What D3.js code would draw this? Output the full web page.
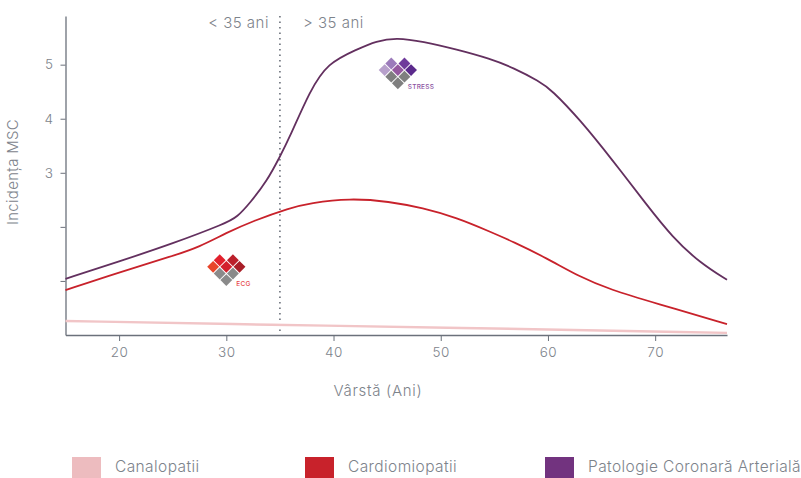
<!DOCTYPE html>
<html>
<head>
<meta charset="utf-8">
<script src="https://cdn.jsdelivr.net/npm/d3@7"></script>
<style>
  html, body { margin: 0; padding: 0; background: #fff; overflow: hidden; }
  svg { display: block; }
  text { font-family: Inter, "Open Sans", sans-serif; font-weight: 300; fill: #7d838b; }
</style>
</head>
<body>
<div id="chart"></div>
<script>
const canalAges = [15, 35, 50, 76.7];
const canalValues = [0.26, 0.185, 0.14, 0.04];

const cardioAges = [15, 20, 25, 27.5, 30, 32.5, 35.9, 37.8, 41.5, 45.2, 48.3, 51.5, 54.6, 56.7, 59.9, 63, 65.8, 70, 76.7];
const cardioValues = [0.83, 1.16, 1.46, 1.63, 1.89, 2.11, 2.35, 2.44, 2.53, 2.47, 2.35, 2.17, 1.91, 1.73, 1.42, 1.07, 0.84, 0.59, 0.20];

const coronaryAges = [15, 20, 25, 30, 31, 32.2, 33.8, 35, 35.9, 37.8, 39.45, 42.15, 44, 45.9, 48.3, 51.5, 54.6, 56.8, 59.2, 60.3, 63, 66, 69.2, 71.6, 74.2, 76.7];
const coronaryValues = [1.04, 1.36, 1.69, 2.07, 2.18, 2.44, 2.85, 3.30, 3.65, 4.52, 5.03, 5.28, 5.44, 5.50, 5.43, 5.28, 5.11, 4.94, 4.69, 4.54, 3.98, 3.24, 2.41, 1.81, 1.33, 1.02];

const xTicks = [20, 30, 40, 50, 60, 70];
const yTicks = [1, 2, 3, 4, 5];
const yLabelled = [3, 4, 5];
const cutoffAge = 35;

const legendLabels = ['Canalopatii', 'Cardiomiopatii', 'Patologie Coronară Arterială'];
const legendColors = ['#edbcbf', '#c8222b', '#72337f'];

// diamond logos, cells in grid steps around the logo centre
const logoCells = [[-2, 0], [-1, -1], [0, 0], [1, -1], [2, 0], [-1, 1], [1, 1], [0, 2]];
const ecgColors = ['#e8452a', '#e2212d', '#d3202c', '#bb202b', '#a91f28', '#8a8a8a', '#8a8a8a', '#8a8a8a'];
const stressColors = ['#b7a0cb', '#9c7bbb', '#94589f', '#6f3a9b', '#5b2a8c', '#7f7f7f', '#7f7f7f', '#7f7f7f'];

const width = 801;
const height = 478;
const margin = {
  top: 16, bottom: 143, right: 74, left: 65.5,
};

const svg = d3.select('#chart')
  .append('svg')
  .attr('width', width)
  .attr('height', height);

const x = d3.scaleLinear()
  .domain([15, 76.7])
  .range([margin.left, width - margin.right]);

const y = d3.scaleLinear()
  .domain([0, 5.9])
  .range([height - margin.bottom, margin.top]);

const xAxis = svg.append('g')
  .attr('transform', `translate(0, ${height - margin.bottom})`)
  .call(d3.axisBottom(x).tickValues(xTicks).tickSizeInner(6).tickSizeOuter(0).tickPadding(6));

const yAxis = svg.append('g')
  .attr('transform', `translate(${margin.left}, 0)`)
  .call(d3.axisLeft(y)
    .tickValues(yTicks)
    .tickSizeInner(5)
    .tickSizeOuter(0)
    .tickPadding(7)
    .tickFormat((d) => (yLabelled.includes(d) ? d : '')));

[xAxis, yAxis].forEach((axis) => {
  axis.selectAll('path').attr('stroke', '#6b717b').attr('stroke-width', 1.3);
  axis.selectAll('line').attr('stroke', '#6b717b');
  axis.selectAll('text')
    .style('font-family', 'Inter, "Open Sans", sans-serif')
    .style('font-size', '13.5px')
    .style('letter-spacing', '0.5px')
    .style('font-weight', 300);
});

svg.append('line')
  .attr('x1', x(cutoffAge))
  .attr('x2', x(cutoffAge))
  .attr('y1', y.range()[1])
  .attr('y2', y.range()[0])
  .attr('stroke', '#5f6570')
  .attr('stroke-width', 1.5)
  .attr('stroke-dasharray', '1.5 4');

const line = d3.line()
  .x((d) => x(d[0]))
  .y((d) => y(d[1]))
  .curve(d3.curveBasis);

const series = [
  { ages: canalAges, values: canalValues, color: '#f1c5c7', w: 2.4 },
  { ages: cardioAges, values: cardioValues, color: '#c8222b', w: 1.8 },
  { ages: coronaryAges, values: coronaryValues, color: '#63305f', w: 1.8 },
];

svg.append('g')
  .selectAll('path')
  .data(series)
  .join('path')
  .attr('d', (d) => line(d3.zip(d.ages, d.values)))
  .attr('fill', 'none')
  .attr('stroke', (d) => d.color)
  .attr('stroke-width', (d) => d.w);

function drawLogo(age, value, colors, label, labelColor) {
  const step = 6.6;
  const g = svg.append('g')
    .attr('transform', `translate(${x(age)}, ${y(value)})`);
  g.selectAll('rect')
    .data(logoCells)
    .join('rect')
    .attr('x', -4.2)
    .attr('y', -4.2)
    .attr('width', 8.4)
    .attr('height', 8.4)
    .attr('transform', (d) => `translate(${d[0] * step}, ${d[1] * step}) rotate(45)`)
    .attr('fill', (d, i) => colors[i]);
  g.append('text')
    .attr('x', 10)
    .attr('y', 19)
    .style('font-size', '6.5px')
    .style('font-weight', 500)
    .style('letter-spacing', '0.2px')
    .style('fill', labelColor)
    .text(label);
}

drawLogo(30, 1.26, ecgColors, 'ECG', '#e8474c');
drawLogo(46, 4.9, stressColors, 'STRESS', '#8b539f');

svg.append('text')
  .attr('x', x(cutoffAge) - 11)
  .attr('y', 28)
  .attr('text-anchor', 'end')
  .style('font-size', '15px')
  .style('letter-spacing', '0.5px')
  .text('< 35 ani');

svg.append('text')
  .attr('x', x(cutoffAge) + 23)
  .attr('y', 28)
  .style('font-size', '15px')
  .style('letter-spacing', '0.5px')
  .text('> 35 ani');

svg.append('text')
  .attr('x', 378)
  .attr('y', 396)
  .attr('text-anchor', 'middle')
  .style('font-size', '15px')
  .style('letter-spacing', '0.7px')
  .text('Vârstă (Ani)');

svg.append('text')
  .attr('transform', 'translate(18, 172) rotate(-90)')
  .attr('text-anchor', 'middle')
  .style('font-size', '15px')
  .style('letter-spacing', '0.3px')
  .text('Incidența MSC');

const legendX = d3.scaleOrdinal()
  .domain(legendLabels)
  .range([72, 305, 545]);

const legend = svg.append('g')
  .selectAll('g')
  .data(legendLabels)
  .join('g')
  .attr('transform', (d) => `translate(${legendX(d)}, 457)`);

legend.append('rect')
  .attr('width', 29)
  .attr('height', 21)
  .attr('fill', (d, i) => legendColors[i]);

legend.append('text')
  .attr('x', 43)
  .attr('y', 15)
  .style('font-size', '15.5px')
  .style('letter-spacing', '0.4px')
  .text((d) => d);
</script>
</body>
</html>
